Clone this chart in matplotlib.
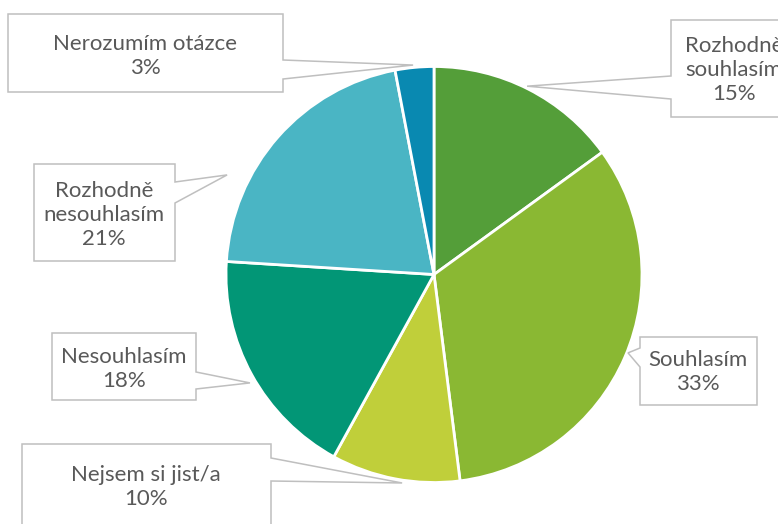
import matplotlib
matplotlib.use('Agg')
import matplotlib.pyplot as plt
import numpy as np
from matplotlib.patches import Polygon

W, H = 778, 524

# data
labels = ['Rozhodně\nsouhlasím', 'Souhlasím', 'Nejsem si jist/a',
          'Nesouhlasím', 'Rozhodně\nnesouhlasím', 'Nerozumím otázce']
values = [15, 33, 10, 18, 21, 3]
colors = ['#549E39', '#8AB833', '#C0CF3A', '#029676', '#4AB5C4', '#0989B1']

# layout (pixels from top-left)
CX, CY, R = 434, 274.5, 208
# box: left, top, right, bottom, side of callout, base y0, base y1
boxes = [
    (671, 20, 797, 117, 'left', 76, 99),
    (640, 337, 757, 405, 'left', 348, 367),
    (22, 444, 271, 540, 'right', 458, 481),
    (52, 333, 196, 400, 'right', 372, 389),
    (34, 164, 175, 261, 'right', 182, 203),
    (8, 14, 283, 92, 'right', 60, 79),
]
# callout tip as (angle deg, radius fraction) on the pie
tips = [(63.7, 1.01), (-22.0, 1.006), (261.3, 1.014),
        (210.5, 1.027), (154.3, 1.104), (95.7, 1.012)]
text_pos = [(734, 70), (698, 372), (146, 487), (124, 369), (104, 215), (145, 56.5)]

fig = plt.figure(figsize=(W / 100, H / 100), dpi=100)
ax = fig.add_axes([0, 0, 1, 1])

def py(y):
    return H - y

ax.pie(values, colors=colors, startangle=90, counterclock=False,
       center=(CX, py(CY)), radius=R,
       wedgeprops=dict(edgecolor='white', linewidth=2.0))

for lab, v, b, t, tp in zip(labels, values, boxes, tips, text_pos):
    l, top, r, bot, side, b0, b1 = b
    ang = np.deg2rad(t[0])
    tx = CX + R * t[1] * np.cos(ang)
    ty = CY - R * t[1] * np.sin(ang)
    if side == 'right':
        pts = [(l, top), (r, top), (r, b0), (tx, ty), (r, b1), (r, bot), (l, bot)]
    else:
        pts = [(l, top), (r, top), (r, bot), (l, bot), (l, b1), (tx, ty), (l, b0)]
    pts = [(x, py(y)) for x, y in pts]
    ax.add_patch(Polygon(pts, closed=True, facecolor='white',
                         edgecolor='#BFBFBF', linewidth=1.1, zorder=3))
    ax.text(tp[0], py(tp[1]), '%s\n%d%%' % (lab, v), ha='center', va='center',
            fontsize=16, color='#595959', family='Lato', linespacing=1.25,
            zorder=4)

ax.set_xlim(0, W)
ax.set_ylim(0, H)
ax.set_aspect('auto')
ax.axis('off')

fig.savefig('out.png', dpi=100)
